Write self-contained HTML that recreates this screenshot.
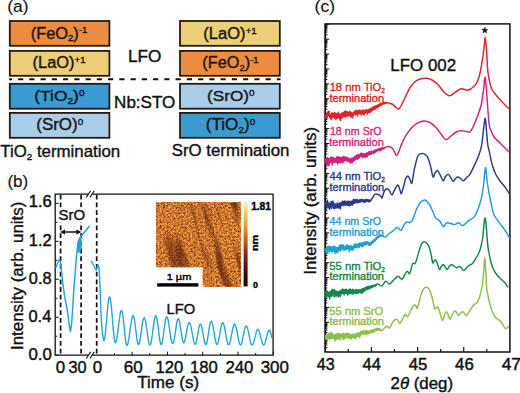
<!DOCTYPE html>
<html><head><meta charset="utf-8"><style>
html,body{margin:0;padding:0;background:#fff;}
svg{display:block;}
text{font-family:"Liberation Sans", sans-serif;}
</style></head><body>
<svg width="520" height="393" viewBox="0 0 520 393">
<rect width="520" height="393" fill="#fff"/>
<rect x="9.8" y="21.0" width="99.60000000000001" height="24.799999999999997" fill="#EC8C40" stroke="#241a12" stroke-width="1.8"/>
<rect x="9.8" y="50.9" width="99.60000000000001" height="24.9" fill="#EDCF78" stroke="#241a12" stroke-width="1.8"/>
<rect x="9.8" y="83.8" width="99.60000000000001" height="24.900000000000006" fill="#3A9BD2" stroke="#241a12" stroke-width="1.8"/>
<rect x="9.8" y="112.9" width="99.60000000000001" height="24.900000000000006" fill="#A9CEEC" stroke="#241a12" stroke-width="1.8"/>
<rect x="180.0" y="21.0" width="99.80000000000001" height="24.799999999999997" fill="#EDCF78" stroke="#241a12" stroke-width="1.8"/>
<rect x="180.0" y="50.9" width="99.80000000000001" height="24.9" fill="#EC8C40" stroke="#241a12" stroke-width="1.8"/>
<rect x="180.0" y="83.8" width="99.80000000000001" height="24.900000000000006" fill="#A9CEEC" stroke="#241a12" stroke-width="1.8"/>
<rect x="180.0" y="112.9" width="99.80000000000001" height="24.900000000000006" fill="#3A9BD2" stroke="#241a12" stroke-width="1.8"/>
<line x1="9.2" y1="79.3" x2="280.5" y2="79.3" stroke="#111" stroke-width="2" stroke-dasharray="5.2 6.05" stroke-dashoffset="2.4"/>
<path d="M88.2,194.1 L55.2,194.1 L55.2,355.2 L88.2,355.2 M92.4,355.2 L273.1,355.2 L273.1,194.1 L92.4,194.1" fill="none" stroke="#111" stroke-width="1.3"/>
<line x1="86.3" y1="197.4" x2="90.6" y2="190.79999999999998" stroke="#111" stroke-width="1.1"/>
<line x1="89.89999999999999" y1="197.4" x2="94.19999999999999" y2="190.79999999999998" stroke="#111" stroke-width="1.1"/>
<line x1="86.3" y1="358.5" x2="90.6" y2="351.9" stroke="#111" stroke-width="1.1"/>
<line x1="89.89999999999999" y1="358.5" x2="94.19999999999999" y2="351.9" stroke="#111" stroke-width="1.1"/>
<line x1="55.2" y1="355.20" x2="58.7" y2="355.20" stroke="#111" stroke-width="1"/>
<line x1="55.2" y1="336.22" x2="57.400000000000006" y2="336.22" stroke="#111" stroke-width="1"/>
<line x1="55.2" y1="317.24" x2="58.7" y2="317.24" stroke="#111" stroke-width="1"/>
<line x1="55.2" y1="298.26" x2="57.400000000000006" y2="298.26" stroke="#111" stroke-width="1"/>
<line x1="55.2" y1="279.28" x2="58.7" y2="279.28" stroke="#111" stroke-width="1"/>
<line x1="55.2" y1="260.30" x2="57.400000000000006" y2="260.30" stroke="#111" stroke-width="1"/>
<line x1="55.2" y1="241.32" x2="58.7" y2="241.32" stroke="#111" stroke-width="1"/>
<line x1="55.2" y1="222.34" x2="57.400000000000006" y2="222.34" stroke="#111" stroke-width="1"/>
<line x1="55.2" y1="203.36" x2="58.7" y2="203.36" stroke="#111" stroke-width="1"/>
<line x1="114.45" y1="355.2" x2="114.45" y2="353.0" stroke="#111" stroke-width="1"/>
<line x1="132.10" y1="355.2" x2="132.10" y2="351.7" stroke="#111" stroke-width="1"/>
<line x1="149.75" y1="355.2" x2="149.75" y2="353.0" stroke="#111" stroke-width="1"/>
<line x1="167.40" y1="355.2" x2="167.40" y2="351.7" stroke="#111" stroke-width="1"/>
<line x1="185.05" y1="355.2" x2="185.05" y2="353.0" stroke="#111" stroke-width="1"/>
<line x1="202.70" y1="355.2" x2="202.70" y2="351.7" stroke="#111" stroke-width="1"/>
<line x1="220.35" y1="355.2" x2="220.35" y2="353.0" stroke="#111" stroke-width="1"/>
<line x1="238.00" y1="355.2" x2="238.00" y2="351.7" stroke="#111" stroke-width="1"/>
<line x1="255.65" y1="355.2" x2="255.65" y2="353.0" stroke="#111" stroke-width="1"/>
<line x1="273.30" y1="355.2" x2="273.30" y2="351.7" stroke="#111" stroke-width="1"/>
<line x1="60.6" y1="194.7" x2="60.6" y2="355.2" stroke="#111" stroke-width="1.7" stroke-dasharray="4.8 2.9"/>
<line x1="81.1" y1="194.7" x2="81.1" y2="355.2" stroke="#111" stroke-width="1.7" stroke-dasharray="4.8 2.9"/>
<line x1="96.7" y1="194.7" x2="96.7" y2="355.2" stroke="#111" stroke-width="1.7" stroke-dasharray="4.8 2.9"/>
<rect x="58.6" y="207.6" width="26.8" height="14.6" fill="#fff"/>
<line x1="63" y1="232.0" x2="78.5" y2="232.0" stroke="#111" stroke-width="1.5"/>
<path d="M60.0,232.0 L65.0,229.4 L65.0,234.6 Z M81.4,232.0 L76.4,229.4 L76.4,234.6 Z" fill="#111"/>
<path d="M55.80,267.70 L57.50,263.00 L59.30,259.70 L60.50,262.00 L61.30,270.00 L63.00,285.00 L64.70,296.70 L66.50,306.00 L67.90,314.50 L69.30,325.00 L70.40,331.50 L71.50,325.00 L72.50,311.00 L73.20,300.00 L74.00,287.00 L75.40,270.00 L76.30,258.00 L77.30,249.00 L78.30,241.00 L79.50,238.50 L80.80,236.50 L82.50,234.50 L85.00,231.50 L87.50,228.50 L89.60,225.90" fill="none" stroke="#22A6DC" stroke-width="1.5" stroke-linejoin="round"/>
<path d="M77.4,251.5 L77.9,243 L79.0,238.6 L80.6,237.6 L81.6,241 L81.2,248 L80.0,251.8 L78.6,252.6 Z" fill="#22A6DC" stroke="#22A6DC" stroke-width="0.8" stroke-linejoin="round"/>
<path d="M91.10,260.80 L93.00,264.00 L95.00,268.50 L96.20,270.40 L97.20,267.00 L98.10,264.60 L99.00,268.00 L99.60,278.00 L100.20,292.00 L100.80,308.00 L101.50,322.00 L102.40,334.00 L103.80,340.80 L104.38,339.73 L104.96,336.61 L105.54,331.75 L106.12,325.63 L106.70,318.85 L107.28,312.07 L107.86,305.95 L108.44,301.09 L109.02,297.97 L109.60,296.90 L110.18,298.02 L110.76,301.27 L111.34,306.34 L111.92,312.72 L112.50,319.80 L113.08,326.88 L113.66,333.26 L114.24,338.33 L114.82,341.58 L115.40,342.70 L116.01,341.91 L116.62,339.62 L117.23,336.04 L117.84,331.54 L118.45,326.55 L119.06,321.56 L119.67,317.06 L120.28,313.48 L120.89,311.19 L121.50,310.40 L122.04,311.26 L122.58,313.76 L123.12,317.65 L123.66,322.56 L124.20,328.00 L124.74,333.44 L125.28,338.35 L125.82,342.24 L126.36,344.74 L126.90,345.60 L127.52,344.87 L128.14,342.75 L128.76,339.46 L129.38,335.30 L130.00,330.70 L130.62,326.10 L131.24,321.94 L131.86,318.65 L132.48,316.53 L133.10,315.80 L133.64,316.50 L134.18,318.55 L134.72,321.74 L135.26,325.75 L135.80,330.20 L136.34,334.65 L136.88,338.66 L137.42,341.85 L137.96,343.90 L138.50,344.60 L139.07,343.94 L139.64,342.03 L140.21,339.06 L140.78,335.31 L141.35,331.15 L141.92,326.99 L142.49,323.24 L143.06,320.27 L143.63,318.36 L144.20,317.70 L144.78,318.37 L145.36,320.31 L145.94,323.33 L146.52,327.13 L147.10,331.35 L147.68,335.57 L148.26,339.37 L148.84,342.39 L149.42,344.33 L150.00,345.00 L150.58,344.29 L151.16,342.21 L151.74,338.98 L152.32,334.91 L152.90,330.40 L153.48,325.89 L154.06,321.82 L154.64,318.59 L155.22,316.51 L155.80,315.80 L156.34,316.50 L156.88,318.55 L157.42,321.74 L157.96,325.75 L158.50,330.20 L159.04,334.65 L159.58,338.66 L160.12,341.85 L160.66,343.90 L161.20,344.60 L161.75,343.92 L162.30,341.94 L162.85,338.85 L163.40,334.96 L163.95,330.65 L164.50,326.34 L165.05,322.45 L165.60,319.36 L166.15,317.38 L166.70,316.70 L167.30,317.36 L167.90,319.27 L168.50,322.24 L169.10,325.99 L169.70,330.15 L170.30,334.31 L170.90,338.06 L171.50,341.03 L172.10,342.94 L172.70,343.60 L173.26,342.99 L173.82,341.22 L174.38,338.47 L174.94,335.00 L175.50,331.15 L176.06,327.30 L176.62,323.83 L177.18,321.08 L177.74,319.31 L178.30,318.70 L178.84,319.29 L179.38,320.99 L179.92,323.65 L180.46,326.99 L181.00,330.70 L181.54,334.41 L182.08,337.75 L182.62,340.41 L183.16,342.11 L183.70,342.70 L184.25,342.21 L184.80,340.77 L185.35,338.54 L185.90,335.72 L186.45,332.60 L187.00,329.48 L187.55,326.66 L188.10,324.43 L188.65,322.99 L189.20,322.50 L189.80,323.03 L190.40,324.57 L191.00,326.97 L191.60,330.00 L192.20,333.35 L192.80,336.70 L193.40,339.73 L194.00,342.13 L194.60,343.67 L195.20,344.20 L195.72,343.71 L196.24,342.27 L196.76,340.04 L197.28,337.22 L197.80,334.10 L198.32,330.98 L198.84,328.16 L199.36,325.93 L199.88,324.49 L200.40,324.00 L200.94,324.50 L201.48,325.96 L202.02,328.23 L202.56,331.08 L203.10,334.25 L203.64,337.42 L204.18,340.27 L204.72,342.54 L205.26,344.00 L205.80,344.50 L206.34,343.93 L206.88,342.28 L207.42,339.72 L207.96,336.48 L208.50,332.90 L209.04,329.32 L209.58,326.08 L210.12,323.52 L210.66,321.87 L211.20,321.30 L211.78,321.87 L212.36,323.52 L212.94,326.08 L213.52,329.32 L214.10,332.90 L214.68,336.48 L215.26,339.72 L215.84,342.28 L216.42,343.93 L217.00,344.50 L217.57,343.97 L218.14,342.42 L218.71,340.01 L219.28,336.97 L219.85,333.60 L220.42,330.23 L220.99,327.19 L221.56,324.78 L222.13,323.23 L222.70,322.70 L223.30,323.24 L223.90,324.81 L224.50,327.25 L225.10,330.34 L225.70,333.75 L226.30,337.16 L226.90,340.25 L227.50,342.69 L228.10,344.26 L228.70,344.80 L229.29,344.29 L229.88,342.81 L230.47,340.51 L231.06,337.61 L231.65,334.40 L232.24,331.19 L232.83,328.29 L233.42,325.99 L234.01,324.51 L234.60,324.00 L235.19,324.51 L235.78,326.01 L236.37,328.33 L236.96,331.26 L237.55,334.50 L238.14,337.74 L238.73,340.67 L239.32,342.99 L239.91,344.49 L240.50,345.00 L241.07,344.54 L241.64,343.19 L242.21,341.08 L242.78,338.44 L243.35,335.50 L243.92,332.56 L244.49,329.92 L245.06,327.81 L245.63,326.46 L246.20,326.00 L246.79,326.46 L247.38,327.81 L247.97,329.92 L248.56,332.56 L249.15,335.50 L249.74,338.44 L250.33,341.08 L250.92,343.19 L251.51,344.54 L252.10,345.00 L252.68,344.62 L253.26,343.51 L253.84,341.78 L254.42,339.61 L255.00,337.20 L255.58,334.79 L256.16,332.62 L256.74,330.89 L257.32,329.78 L257.90,329.40 L258.47,329.78 L259.04,330.89 L259.61,332.62 L260.18,334.79 L260.75,337.20 L261.32,339.61 L261.89,341.78 L262.46,343.51 L263.03,344.62 L263.60,345.00 L264.18,344.63 L264.76,343.57 L265.34,341.91 L265.92,339.82 L266.50,337.50 L267.08,335.18 L267.66,333.09 L268.24,331.43 L268.82,330.37 L269.40,330.00 L269.71,330.20 L270.02,330.76 L270.33,331.65 L270.64,332.76 L270.95,334.00 L271.26,335.24 L271.57,336.35 L271.88,337.24 L272.19,337.80 L272.50,338.00" fill="none" stroke="#22A6DC" stroke-width="1.4" stroke-linejoin="round"/>
<defs><filter id="afmf" x="156.0" y="202.2" width="84.5" height="84.40000000000003" filterUnits="userSpaceOnUse" color-interpolation-filters="sRGB">
<feTurbulence type="fractalNoise" baseFrequency="0.55" numOctaves="2" seed="11" result="t"/>
<feColorMatrix in="t" type="matrix" values="1 0 0 0 0  1 0 0 0 0  1 0 0 0 0  0 0 0 0 1" result="g"/>
<feComponentTransfer in="g" result="g2"><feFuncR type="linear" slope="1.15" intercept="-0.025"/><feFuncG type="linear" slope="1.15" intercept="-0.025"/><feFuncB type="linear" slope="1.15" intercept="-0.025"/></feComponentTransfer>
<feComponentTransfer in="g2"><feFuncR type="table" tableValues="0.275 0.384 0.494 0.608 0.698 0.792 0.847 0.902 0.929 0.961 0.980"/><feFuncG type="table" tableValues="0.078 0.137 0.196 0.255 0.345 0.439 0.518 0.596 0.675 0.753 0.902"/><feFuncB type="table" tableValues="0.020 0.039 0.063 0.086 0.125 0.165 0.208 0.251 0.325 0.400 0.627"/></feComponentTransfer>
</filter>
<linearGradient id="afms" gradientUnits="userSpaceOnUse" x1="0" y1="0" x2="11" y2="0" spreadMethod="repeat" gradientTransform="translate(156.0 202.2) rotate(-18)">
<stop offset="0" stop-color="#5a1a05" stop-opacity="0"/><stop offset="0.35" stop-color="#5a1a05" stop-opacity="0.0"/><stop offset="0.6" stop-color="#5a1a05" stop-opacity="0.38"/><stop offset="0.85" stop-color="#5a1a05" stop-opacity="0.0"/><stop offset="1" stop-color="#5a1a05" stop-opacity="0"/></linearGradient></defs>
<rect x="156.0" y="202.2" width="84.5" height="84.40000000000003" fill="#c87830" filter="url(#afmf)"/>
<defs><clipPath id="afmclip"><rect x="156.0" y="202.2" width="84.5" height="84.40000000000003"/></clipPath>
<filter id="streak" x="126.0" y="172.2" width="144.5" height="144.40000000000003" filterUnits="userSpaceOnUse" color-interpolation-filters="sRGB">
<feTurbulence type="fractalNoise" baseFrequency="0.10 0.018" numOctaves="2" seed="4" result="t"/>
<feColorMatrix in="t" type="matrix" values="0 0 0 0 0.33  0 0 0 0 0.09  0 0 0 0 0.02  -2.6 0 0 0 1.300"/>
</filter></defs>
<g clip-path="url(#afmclip)"><g transform="rotate(-16 198.2 244.4)"><rect x="126.0" y="172.2" width="144.5" height="144.40000000000003" fill="#000" filter="url(#streak)"/></g></g>
<rect x="155.5" y="267.4" width="47.099999999999994" height="19.700000000000045" fill="#fff"/>
<rect x="157.2" y="283.2" width="41.2" height="3.4" fill="#000"/>
<defs><linearGradient id="cb" x1="0" y1="1" x2="0" y2="0"><stop offset="0" stop-color="#1a0000"/><stop offset="0.2" stop-color="#4a0a05"/><stop offset="0.4" stop-color="#8a3010"/><stop offset="0.55" stop-color="#c06020"/><stop offset="0.7" stop-color="#e09838"/><stop offset="0.85" stop-color="#f0c858"/><stop offset="1" stop-color="#f8f0c8"/></linearGradient></defs>
<rect x="243.6" y="202.0" width="4.0" height="84.4" fill="url(#cb)"/>
<rect x="325.2" y="23.9" width="184.7" height="328.1" fill="none" stroke="#111" stroke-width="1.5"/>
<line x1="325.4" y1="23.9" x2="325.4" y2="352.0" stroke="#111" stroke-width="1.5"/>
<line x1="348.29" y1="352.0" x2="348.29" y2="349.0" stroke="#111" stroke-width="1.2"/>
<line x1="371.38" y1="352.0" x2="371.38" y2="347.0" stroke="#111" stroke-width="1.2"/>
<line x1="394.46" y1="352.0" x2="394.46" y2="349.0" stroke="#111" stroke-width="1.2"/>
<line x1="417.55" y1="352.0" x2="417.55" y2="347.0" stroke="#111" stroke-width="1.2"/>
<line x1="440.64" y1="352.0" x2="440.64" y2="349.0" stroke="#111" stroke-width="1.2"/>
<line x1="463.72" y1="352.0" x2="463.72" y2="347.0" stroke="#111" stroke-width="1.2"/>
<line x1="486.81" y1="352.0" x2="486.81" y2="349.0" stroke="#111" stroke-width="1.2"/>
<line x1="325.2" y1="24.30" x2="329.2" y2="24.30" stroke="#111" stroke-width="1"/>
<line x1="325.2" y1="34.71" x2="327.4" y2="34.71" stroke="#111" stroke-width="1"/>
<line x1="325.2" y1="32.09" x2="327.4" y2="32.09" stroke="#111" stroke-width="1"/>
<line x1="325.2" y1="30.23" x2="327.4" y2="30.23" stroke="#111" stroke-width="1"/>
<line x1="325.2" y1="28.79" x2="327.4" y2="28.79" stroke="#111" stroke-width="1"/>
<line x1="325.2" y1="27.61" x2="327.4" y2="27.61" stroke="#111" stroke-width="1"/>
<line x1="325.2" y1="26.61" x2="327.4" y2="26.61" stroke="#111" stroke-width="1"/>
<line x1="325.2" y1="25.74" x2="327.4" y2="25.74" stroke="#111" stroke-width="1"/>
<line x1="325.2" y1="24.98" x2="327.4" y2="24.98" stroke="#111" stroke-width="1"/>
<line x1="325.2" y1="39.20" x2="329.2" y2="39.20" stroke="#111" stroke-width="1"/>
<line x1="325.2" y1="49.61" x2="327.4" y2="49.61" stroke="#111" stroke-width="1"/>
<line x1="325.2" y1="46.99" x2="327.4" y2="46.99" stroke="#111" stroke-width="1"/>
<line x1="325.2" y1="45.13" x2="327.4" y2="45.13" stroke="#111" stroke-width="1"/>
<line x1="325.2" y1="43.69" x2="327.4" y2="43.69" stroke="#111" stroke-width="1"/>
<line x1="325.2" y1="42.51" x2="327.4" y2="42.51" stroke="#111" stroke-width="1"/>
<line x1="325.2" y1="41.51" x2="327.4" y2="41.51" stroke="#111" stroke-width="1"/>
<line x1="325.2" y1="40.64" x2="327.4" y2="40.64" stroke="#111" stroke-width="1"/>
<line x1="325.2" y1="39.88" x2="327.4" y2="39.88" stroke="#111" stroke-width="1"/>
<line x1="325.2" y1="54.10" x2="329.2" y2="54.10" stroke="#111" stroke-width="1"/>
<line x1="325.2" y1="64.51" x2="327.4" y2="64.51" stroke="#111" stroke-width="1"/>
<line x1="325.2" y1="61.89" x2="327.4" y2="61.89" stroke="#111" stroke-width="1"/>
<line x1="325.2" y1="60.03" x2="327.4" y2="60.03" stroke="#111" stroke-width="1"/>
<line x1="325.2" y1="58.59" x2="327.4" y2="58.59" stroke="#111" stroke-width="1"/>
<line x1="325.2" y1="57.41" x2="327.4" y2="57.41" stroke="#111" stroke-width="1"/>
<line x1="325.2" y1="56.41" x2="327.4" y2="56.41" stroke="#111" stroke-width="1"/>
<line x1="325.2" y1="55.54" x2="327.4" y2="55.54" stroke="#111" stroke-width="1"/>
<line x1="325.2" y1="54.78" x2="327.4" y2="54.78" stroke="#111" stroke-width="1"/>
<line x1="325.2" y1="69.00" x2="329.2" y2="69.00" stroke="#111" stroke-width="1"/>
<line x1="325.2" y1="79.41" x2="327.4" y2="79.41" stroke="#111" stroke-width="1"/>
<line x1="325.2" y1="76.79" x2="327.4" y2="76.79" stroke="#111" stroke-width="1"/>
<line x1="325.2" y1="74.93" x2="327.4" y2="74.93" stroke="#111" stroke-width="1"/>
<line x1="325.2" y1="73.49" x2="327.4" y2="73.49" stroke="#111" stroke-width="1"/>
<line x1="325.2" y1="72.31" x2="327.4" y2="72.31" stroke="#111" stroke-width="1"/>
<line x1="325.2" y1="71.31" x2="327.4" y2="71.31" stroke="#111" stroke-width="1"/>
<line x1="325.2" y1="70.44" x2="327.4" y2="70.44" stroke="#111" stroke-width="1"/>
<line x1="325.2" y1="69.68" x2="327.4" y2="69.68" stroke="#111" stroke-width="1"/>
<line x1="325.2" y1="83.90" x2="329.2" y2="83.90" stroke="#111" stroke-width="1"/>
<line x1="325.2" y1="94.31" x2="327.4" y2="94.31" stroke="#111" stroke-width="1"/>
<line x1="325.2" y1="91.69" x2="327.4" y2="91.69" stroke="#111" stroke-width="1"/>
<line x1="325.2" y1="89.83" x2="327.4" y2="89.83" stroke="#111" stroke-width="1"/>
<line x1="325.2" y1="88.39" x2="327.4" y2="88.39" stroke="#111" stroke-width="1"/>
<line x1="325.2" y1="87.21" x2="327.4" y2="87.21" stroke="#111" stroke-width="1"/>
<line x1="325.2" y1="86.21" x2="327.4" y2="86.21" stroke="#111" stroke-width="1"/>
<line x1="325.2" y1="85.34" x2="327.4" y2="85.34" stroke="#111" stroke-width="1"/>
<line x1="325.2" y1="84.58" x2="327.4" y2="84.58" stroke="#111" stroke-width="1"/>
<line x1="325.2" y1="98.80" x2="329.2" y2="98.80" stroke="#111" stroke-width="1"/>
<line x1="325.2" y1="109.21" x2="327.4" y2="109.21" stroke="#111" stroke-width="1"/>
<line x1="325.2" y1="106.59" x2="327.4" y2="106.59" stroke="#111" stroke-width="1"/>
<line x1="325.2" y1="104.73" x2="327.4" y2="104.73" stroke="#111" stroke-width="1"/>
<line x1="325.2" y1="103.29" x2="327.4" y2="103.29" stroke="#111" stroke-width="1"/>
<line x1="325.2" y1="102.11" x2="327.4" y2="102.11" stroke="#111" stroke-width="1"/>
<line x1="325.2" y1="101.11" x2="327.4" y2="101.11" stroke="#111" stroke-width="1"/>
<line x1="325.2" y1="100.24" x2="327.4" y2="100.24" stroke="#111" stroke-width="1"/>
<line x1="325.2" y1="99.48" x2="327.4" y2="99.48" stroke="#111" stroke-width="1"/>
<line x1="325.2" y1="113.70" x2="329.2" y2="113.70" stroke="#111" stroke-width="1"/>
<line x1="325.2" y1="124.11" x2="327.4" y2="124.11" stroke="#111" stroke-width="1"/>
<line x1="325.2" y1="121.49" x2="327.4" y2="121.49" stroke="#111" stroke-width="1"/>
<line x1="325.2" y1="119.63" x2="327.4" y2="119.63" stroke="#111" stroke-width="1"/>
<line x1="325.2" y1="118.19" x2="327.4" y2="118.19" stroke="#111" stroke-width="1"/>
<line x1="325.2" y1="117.01" x2="327.4" y2="117.01" stroke="#111" stroke-width="1"/>
<line x1="325.2" y1="116.01" x2="327.4" y2="116.01" stroke="#111" stroke-width="1"/>
<line x1="325.2" y1="115.14" x2="327.4" y2="115.14" stroke="#111" stroke-width="1"/>
<line x1="325.2" y1="114.38" x2="327.4" y2="114.38" stroke="#111" stroke-width="1"/>
<line x1="325.2" y1="128.60" x2="329.2" y2="128.60" stroke="#111" stroke-width="1"/>
<line x1="325.2" y1="139.01" x2="327.4" y2="139.01" stroke="#111" stroke-width="1"/>
<line x1="325.2" y1="136.39" x2="327.4" y2="136.39" stroke="#111" stroke-width="1"/>
<line x1="325.2" y1="134.53" x2="327.4" y2="134.53" stroke="#111" stroke-width="1"/>
<line x1="325.2" y1="133.09" x2="327.4" y2="133.09" stroke="#111" stroke-width="1"/>
<line x1="325.2" y1="131.91" x2="327.4" y2="131.91" stroke="#111" stroke-width="1"/>
<line x1="325.2" y1="130.91" x2="327.4" y2="130.91" stroke="#111" stroke-width="1"/>
<line x1="325.2" y1="130.04" x2="327.4" y2="130.04" stroke="#111" stroke-width="1"/>
<line x1="325.2" y1="129.28" x2="327.4" y2="129.28" stroke="#111" stroke-width="1"/>
<line x1="325.2" y1="143.50" x2="329.2" y2="143.50" stroke="#111" stroke-width="1"/>
<line x1="325.2" y1="153.91" x2="327.4" y2="153.91" stroke="#111" stroke-width="1"/>
<line x1="325.2" y1="151.29" x2="327.4" y2="151.29" stroke="#111" stroke-width="1"/>
<line x1="325.2" y1="149.43" x2="327.4" y2="149.43" stroke="#111" stroke-width="1"/>
<line x1="325.2" y1="147.99" x2="327.4" y2="147.99" stroke="#111" stroke-width="1"/>
<line x1="325.2" y1="146.81" x2="327.4" y2="146.81" stroke="#111" stroke-width="1"/>
<line x1="325.2" y1="145.81" x2="327.4" y2="145.81" stroke="#111" stroke-width="1"/>
<line x1="325.2" y1="144.94" x2="327.4" y2="144.94" stroke="#111" stroke-width="1"/>
<line x1="325.2" y1="144.18" x2="327.4" y2="144.18" stroke="#111" stroke-width="1"/>
<line x1="325.2" y1="158.40" x2="329.2" y2="158.40" stroke="#111" stroke-width="1"/>
<line x1="325.2" y1="168.81" x2="327.4" y2="168.81" stroke="#111" stroke-width="1"/>
<line x1="325.2" y1="166.19" x2="327.4" y2="166.19" stroke="#111" stroke-width="1"/>
<line x1="325.2" y1="164.33" x2="327.4" y2="164.33" stroke="#111" stroke-width="1"/>
<line x1="325.2" y1="162.89" x2="327.4" y2="162.89" stroke="#111" stroke-width="1"/>
<line x1="325.2" y1="161.71" x2="327.4" y2="161.71" stroke="#111" stroke-width="1"/>
<line x1="325.2" y1="160.71" x2="327.4" y2="160.71" stroke="#111" stroke-width="1"/>
<line x1="325.2" y1="159.84" x2="327.4" y2="159.84" stroke="#111" stroke-width="1"/>
<line x1="325.2" y1="159.08" x2="327.4" y2="159.08" stroke="#111" stroke-width="1"/>
<line x1="325.2" y1="173.30" x2="329.2" y2="173.30" stroke="#111" stroke-width="1"/>
<line x1="325.2" y1="183.71" x2="327.4" y2="183.71" stroke="#111" stroke-width="1"/>
<line x1="325.2" y1="181.09" x2="327.4" y2="181.09" stroke="#111" stroke-width="1"/>
<line x1="325.2" y1="179.23" x2="327.4" y2="179.23" stroke="#111" stroke-width="1"/>
<line x1="325.2" y1="177.79" x2="327.4" y2="177.79" stroke="#111" stroke-width="1"/>
<line x1="325.2" y1="176.61" x2="327.4" y2="176.61" stroke="#111" stroke-width="1"/>
<line x1="325.2" y1="175.61" x2="327.4" y2="175.61" stroke="#111" stroke-width="1"/>
<line x1="325.2" y1="174.74" x2="327.4" y2="174.74" stroke="#111" stroke-width="1"/>
<line x1="325.2" y1="173.98" x2="327.4" y2="173.98" stroke="#111" stroke-width="1"/>
<line x1="325.2" y1="188.20" x2="329.2" y2="188.20" stroke="#111" stroke-width="1"/>
<line x1="325.2" y1="198.61" x2="327.4" y2="198.61" stroke="#111" stroke-width="1"/>
<line x1="325.2" y1="195.99" x2="327.4" y2="195.99" stroke="#111" stroke-width="1"/>
<line x1="325.2" y1="194.13" x2="327.4" y2="194.13" stroke="#111" stroke-width="1"/>
<line x1="325.2" y1="192.69" x2="327.4" y2="192.69" stroke="#111" stroke-width="1"/>
<line x1="325.2" y1="191.51" x2="327.4" y2="191.51" stroke="#111" stroke-width="1"/>
<line x1="325.2" y1="190.51" x2="327.4" y2="190.51" stroke="#111" stroke-width="1"/>
<line x1="325.2" y1="189.64" x2="327.4" y2="189.64" stroke="#111" stroke-width="1"/>
<line x1="325.2" y1="188.88" x2="327.4" y2="188.88" stroke="#111" stroke-width="1"/>
<line x1="325.2" y1="203.10" x2="329.2" y2="203.10" stroke="#111" stroke-width="1"/>
<line x1="325.2" y1="213.51" x2="327.4" y2="213.51" stroke="#111" stroke-width="1"/>
<line x1="325.2" y1="210.89" x2="327.4" y2="210.89" stroke="#111" stroke-width="1"/>
<line x1="325.2" y1="209.03" x2="327.4" y2="209.03" stroke="#111" stroke-width="1"/>
<line x1="325.2" y1="207.59" x2="327.4" y2="207.59" stroke="#111" stroke-width="1"/>
<line x1="325.2" y1="206.41" x2="327.4" y2="206.41" stroke="#111" stroke-width="1"/>
<line x1="325.2" y1="205.41" x2="327.4" y2="205.41" stroke="#111" stroke-width="1"/>
<line x1="325.2" y1="204.54" x2="327.4" y2="204.54" stroke="#111" stroke-width="1"/>
<line x1="325.2" y1="203.78" x2="327.4" y2="203.78" stroke="#111" stroke-width="1"/>
<line x1="325.2" y1="218.00" x2="329.2" y2="218.00" stroke="#111" stroke-width="1"/>
<line x1="325.2" y1="228.41" x2="327.4" y2="228.41" stroke="#111" stroke-width="1"/>
<line x1="325.2" y1="225.79" x2="327.4" y2="225.79" stroke="#111" stroke-width="1"/>
<line x1="325.2" y1="223.93" x2="327.4" y2="223.93" stroke="#111" stroke-width="1"/>
<line x1="325.2" y1="222.49" x2="327.4" y2="222.49" stroke="#111" stroke-width="1"/>
<line x1="325.2" y1="221.31" x2="327.4" y2="221.31" stroke="#111" stroke-width="1"/>
<line x1="325.2" y1="220.31" x2="327.4" y2="220.31" stroke="#111" stroke-width="1"/>
<line x1="325.2" y1="219.44" x2="327.4" y2="219.44" stroke="#111" stroke-width="1"/>
<line x1="325.2" y1="218.68" x2="327.4" y2="218.68" stroke="#111" stroke-width="1"/>
<line x1="325.2" y1="232.90" x2="329.2" y2="232.90" stroke="#111" stroke-width="1"/>
<line x1="325.2" y1="243.31" x2="327.4" y2="243.31" stroke="#111" stroke-width="1"/>
<line x1="325.2" y1="240.69" x2="327.4" y2="240.69" stroke="#111" stroke-width="1"/>
<line x1="325.2" y1="238.83" x2="327.4" y2="238.83" stroke="#111" stroke-width="1"/>
<line x1="325.2" y1="237.39" x2="327.4" y2="237.39" stroke="#111" stroke-width="1"/>
<line x1="325.2" y1="236.21" x2="327.4" y2="236.21" stroke="#111" stroke-width="1"/>
<line x1="325.2" y1="235.21" x2="327.4" y2="235.21" stroke="#111" stroke-width="1"/>
<line x1="325.2" y1="234.34" x2="327.4" y2="234.34" stroke="#111" stroke-width="1"/>
<line x1="325.2" y1="233.58" x2="327.4" y2="233.58" stroke="#111" stroke-width="1"/>
<line x1="325.2" y1="247.80" x2="329.2" y2="247.80" stroke="#111" stroke-width="1"/>
<line x1="325.2" y1="258.21" x2="327.4" y2="258.21" stroke="#111" stroke-width="1"/>
<line x1="325.2" y1="255.59" x2="327.4" y2="255.59" stroke="#111" stroke-width="1"/>
<line x1="325.2" y1="253.73" x2="327.4" y2="253.73" stroke="#111" stroke-width="1"/>
<line x1="325.2" y1="252.29" x2="327.4" y2="252.29" stroke="#111" stroke-width="1"/>
<line x1="325.2" y1="251.11" x2="327.4" y2="251.11" stroke="#111" stroke-width="1"/>
<line x1="325.2" y1="250.11" x2="327.4" y2="250.11" stroke="#111" stroke-width="1"/>
<line x1="325.2" y1="249.24" x2="327.4" y2="249.24" stroke="#111" stroke-width="1"/>
<line x1="325.2" y1="248.48" x2="327.4" y2="248.48" stroke="#111" stroke-width="1"/>
<line x1="325.2" y1="262.70" x2="329.2" y2="262.70" stroke="#111" stroke-width="1"/>
<line x1="325.2" y1="273.11" x2="327.4" y2="273.11" stroke="#111" stroke-width="1"/>
<line x1="325.2" y1="270.49" x2="327.4" y2="270.49" stroke="#111" stroke-width="1"/>
<line x1="325.2" y1="268.63" x2="327.4" y2="268.63" stroke="#111" stroke-width="1"/>
<line x1="325.2" y1="267.19" x2="327.4" y2="267.19" stroke="#111" stroke-width="1"/>
<line x1="325.2" y1="266.01" x2="327.4" y2="266.01" stroke="#111" stroke-width="1"/>
<line x1="325.2" y1="265.01" x2="327.4" y2="265.01" stroke="#111" stroke-width="1"/>
<line x1="325.2" y1="264.14" x2="327.4" y2="264.14" stroke="#111" stroke-width="1"/>
<line x1="325.2" y1="263.38" x2="327.4" y2="263.38" stroke="#111" stroke-width="1"/>
<line x1="325.2" y1="277.60" x2="329.2" y2="277.60" stroke="#111" stroke-width="1"/>
<line x1="325.2" y1="288.01" x2="327.4" y2="288.01" stroke="#111" stroke-width="1"/>
<line x1="325.2" y1="285.39" x2="327.4" y2="285.39" stroke="#111" stroke-width="1"/>
<line x1="325.2" y1="283.53" x2="327.4" y2="283.53" stroke="#111" stroke-width="1"/>
<line x1="325.2" y1="282.09" x2="327.4" y2="282.09" stroke="#111" stroke-width="1"/>
<line x1="325.2" y1="280.91" x2="327.4" y2="280.91" stroke="#111" stroke-width="1"/>
<line x1="325.2" y1="279.91" x2="327.4" y2="279.91" stroke="#111" stroke-width="1"/>
<line x1="325.2" y1="279.04" x2="327.4" y2="279.04" stroke="#111" stroke-width="1"/>
<line x1="325.2" y1="278.28" x2="327.4" y2="278.28" stroke="#111" stroke-width="1"/>
<line x1="325.2" y1="292.50" x2="329.2" y2="292.50" stroke="#111" stroke-width="1"/>
<line x1="325.2" y1="302.91" x2="327.4" y2="302.91" stroke="#111" stroke-width="1"/>
<line x1="325.2" y1="300.29" x2="327.4" y2="300.29" stroke="#111" stroke-width="1"/>
<line x1="325.2" y1="298.43" x2="327.4" y2="298.43" stroke="#111" stroke-width="1"/>
<line x1="325.2" y1="296.99" x2="327.4" y2="296.99" stroke="#111" stroke-width="1"/>
<line x1="325.2" y1="295.81" x2="327.4" y2="295.81" stroke="#111" stroke-width="1"/>
<line x1="325.2" y1="294.81" x2="327.4" y2="294.81" stroke="#111" stroke-width="1"/>
<line x1="325.2" y1="293.94" x2="327.4" y2="293.94" stroke="#111" stroke-width="1"/>
<line x1="325.2" y1="293.18" x2="327.4" y2="293.18" stroke="#111" stroke-width="1"/>
<line x1="325.2" y1="307.40" x2="329.2" y2="307.40" stroke="#111" stroke-width="1"/>
<line x1="325.2" y1="317.81" x2="327.4" y2="317.81" stroke="#111" stroke-width="1"/>
<line x1="325.2" y1="315.19" x2="327.4" y2="315.19" stroke="#111" stroke-width="1"/>
<line x1="325.2" y1="313.33" x2="327.4" y2="313.33" stroke="#111" stroke-width="1"/>
<line x1="325.2" y1="311.89" x2="327.4" y2="311.89" stroke="#111" stroke-width="1"/>
<line x1="325.2" y1="310.71" x2="327.4" y2="310.71" stroke="#111" stroke-width="1"/>
<line x1="325.2" y1="309.71" x2="327.4" y2="309.71" stroke="#111" stroke-width="1"/>
<line x1="325.2" y1="308.84" x2="327.4" y2="308.84" stroke="#111" stroke-width="1"/>
<line x1="325.2" y1="308.08" x2="327.4" y2="308.08" stroke="#111" stroke-width="1"/>
<line x1="325.2" y1="322.30" x2="329.2" y2="322.30" stroke="#111" stroke-width="1"/>
<line x1="325.2" y1="332.71" x2="327.4" y2="332.71" stroke="#111" stroke-width="1"/>
<line x1="325.2" y1="330.09" x2="327.4" y2="330.09" stroke="#111" stroke-width="1"/>
<line x1="325.2" y1="328.23" x2="327.4" y2="328.23" stroke="#111" stroke-width="1"/>
<line x1="325.2" y1="326.79" x2="327.4" y2="326.79" stroke="#111" stroke-width="1"/>
<line x1="325.2" y1="325.61" x2="327.4" y2="325.61" stroke="#111" stroke-width="1"/>
<line x1="325.2" y1="324.61" x2="327.4" y2="324.61" stroke="#111" stroke-width="1"/>
<line x1="325.2" y1="323.74" x2="327.4" y2="323.74" stroke="#111" stroke-width="1"/>
<line x1="325.2" y1="322.98" x2="327.4" y2="322.98" stroke="#111" stroke-width="1"/>
<line x1="325.2" y1="337.20" x2="329.2" y2="337.20" stroke="#111" stroke-width="1"/>
<line x1="325.2" y1="347.61" x2="327.4" y2="347.61" stroke="#111" stroke-width="1"/>
<line x1="325.2" y1="344.99" x2="327.4" y2="344.99" stroke="#111" stroke-width="1"/>
<line x1="325.2" y1="343.13" x2="327.4" y2="343.13" stroke="#111" stroke-width="1"/>
<line x1="325.2" y1="341.69" x2="327.4" y2="341.69" stroke="#111" stroke-width="1"/>
<line x1="325.2" y1="340.51" x2="327.4" y2="340.51" stroke="#111" stroke-width="1"/>
<line x1="325.2" y1="339.51" x2="327.4" y2="339.51" stroke="#111" stroke-width="1"/>
<line x1="325.2" y1="338.64" x2="327.4" y2="338.64" stroke="#111" stroke-width="1"/>
<line x1="325.2" y1="337.88" x2="327.4" y2="337.88" stroke="#111" stroke-width="1"/>
<path d="M325.60,114.13 L326.05,118.34 L326.50,114.23 L326.95,118.16 L327.40,112.38 L327.85,115.99 L328.30,111.47 L328.75,115.89 L329.20,111.55 L329.65,117.26 L330.10,114.38 L330.55,118.86 L331.00,114.13 L331.45,119.25 L331.90,112.58 L332.35,117.61 L332.80,113.89 L333.25,116.69 L333.70,113.14 L334.15,117.74 L334.60,113.09 L335.05,118.81 L335.50,112.92 L335.95,119.15 L336.40,113.90 L336.85,118.42 L337.30,113.79 L337.75,117.86 L338.20,112.30 L338.65,117.84 L339.10,114.08 L339.55,118.81 L340.00,114.14 L340.45,120.54 L340.90,114.02 L341.35,118.21 L341.80,112.87 L342.25,117.84 L342.70,113.38 L343.15,116.83 L343.60,112.60 L344.05,116.59 L344.50,111.48 L344.95,116.69 L345.40,110.95 L345.85,116.70 L346.30,111.69 L346.75,115.76 L347.20,111.35 L347.65,116.19 L348.10,112.45 L348.55,115.76 L349.00,112.35 L349.45,115.17 L349.90,111.33 L350.35,116.67 L350.80,112.21 L351.25,115.91 L351.70,112.86 L352.15,118.16 L352.60,113.27 L353.05,116.47 L353.50,112.19 L353.95,114.64 L354.40,111.78 L354.85,113.94 L355.30,110.56 L355.75,114.61 L356.20,110.81 L356.65,113.60 L357.10,110.72 L357.55,115.89 L358.00,111.02 L358.45,113.46 L358.90,110.62 L359.35,113.88 L359.80,109.90 L360.25,113.34 L360.70,110.98 L361.15,115.11 L361.60,110.86 L362.05,113.63 L362.50,109.95 L362.95,113.99 L363.40,110.27 L363.85,114.68 L364.30,110.47 L364.75,114.44 L365.20,110.41 L365.65,112.70 L366.10,109.71 L366.55,112.53 L367.00,109.84 L367.45,114.10 L367.90,110.59 L368.35,112.34 L368.80,109.49 L369.25,112.67 L369.70,109.28 L370.15,112.29 L370.60,108.30 L371.05,111.63 L371.50,108.54 L371.95,110.89 L372.40,107.32 L372.85,110.03 L373.30,107.05 L373.75,109.37 L374.20,106.91 L374.65,109.54 L375.10,106.05 L375.55,108.81 L376.00,105.98 L376.45,107.36 L376.90,105.56 L377.35,108.06 L377.80,104.91 L378.25,106.88 L378.70,104.82 L379.15,106.29 L379.60,104.07 L380.05,105.92 L380.50,103.51 L380.95,105.52 L381.40,103.07 L381.85,104.71 L382.30,103.19 L382.75,104.13 L383.20,102.40 L383.65,103.73 L384.10,102.50 L384.55,103.67 L385.00,102.40 L385.45,103.45 L385.90,102.42 L386.35,103.27 L386.80,102.42 L386.80,102.42 C386.88,102.47 386.43,102.44 387.30,102.70 C388.17,102.96 390.55,103.20 392.00,104.00 C393.45,104.80 394.87,106.67 396.00,107.50 C397.13,108.33 397.88,109.42 398.80,109.00 C399.72,108.58 400.53,106.75 401.50,105.00 C402.47,103.25 403.12,101.50 404.60,98.50 C406.08,95.50 408.50,89.92 410.40,87.00 C412.30,84.08 414.23,82.37 416.00,81.00 C417.77,79.63 419.22,79.25 421.00,78.80 C422.78,78.35 424.87,78.10 426.70,78.30 C428.53,78.50 430.12,78.97 432.00,80.00 C433.88,81.03 436.00,82.50 438.00,84.50 C440.00,86.50 442.07,90.12 444.00,92.00 C445.93,93.88 447.77,95.72 449.60,95.80 C451.43,95.88 453.10,93.68 455.00,92.50 C456.90,91.32 458.93,89.08 461.00,88.70 C463.07,88.32 465.57,90.32 467.40,90.20 C469.23,90.08 470.52,89.10 472.00,88.00 C473.48,86.90 475.13,85.43 476.30,83.60 C477.47,81.77 478.15,79.97 479.00,77.00 C479.85,74.03 480.60,70.30 481.40,65.80 C482.20,61.30 483.17,54.80 483.80,50.00 C484.43,45.20 484.75,37.00 485.20,37.00 C485.65,37.00 486.07,44.35 486.50,50.00 C486.93,55.65 487.30,65.73 487.80,70.90 C488.30,76.07 488.87,78.03 489.50,81.00 C490.13,83.97 490.52,86.37 491.60,88.70 C492.68,91.03 494.30,92.88 496.00,95.00 C497.70,97.12 500.13,99.57 501.80,101.40 C503.47,103.23 504.73,104.73 506.00,106.00 C507.27,107.27 508.83,108.50 509.40,109.00" fill="none" stroke="#E1232B" stroke-width="1.45" stroke-linejoin="round"/>
<path d="M325.60,158.49 L326.05,163.61 L326.50,158.12 L326.95,163.31 L327.40,157.43 L327.85,164.92 L328.30,159.53 L328.75,165.87 L329.20,160.03 L329.65,163.23 L330.10,157.88 L330.55,162.19 L331.00,157.00 L331.45,162.51 L331.90,157.94 L332.35,164.99 L332.80,157.12 L333.25,162.30 L333.70,158.19 L334.15,162.42 L334.60,158.19 L335.05,161.70 L335.50,158.63 L335.95,162.61 L336.40,157.51 L336.85,162.30 L337.30,156.41 L337.75,164.12 L338.20,157.49 L338.65,161.98 L339.10,156.99 L339.55,162.65 L340.00,157.93 L340.45,163.05 L340.90,157.30 L341.35,160.74 L341.80,157.71 L342.25,162.90 L342.70,157.22 L343.15,162.47 L343.60,156.20 L344.05,160.79 L344.50,156.84 L344.95,160.80 L345.40,157.83 L345.85,160.69 L346.30,157.04 L346.75,160.47 L347.20,157.81 L347.65,161.30 L348.10,158.29 L348.55,160.96 L349.00,158.12 L349.45,161.67 L349.90,159.12 L350.35,162.92 L350.80,158.68 L351.25,162.47 L351.70,158.25 L352.15,162.96 L352.60,158.29 L353.05,161.48 L353.50,157.62 L353.95,160.81 L354.40,156.60 L354.85,160.23 L355.30,156.21 L355.75,159.20 L356.20,155.82 L356.65,158.72 L357.10,154.67 L357.55,159.32 L358.00,154.98 L358.45,158.27 L358.90,154.62 L359.35,157.86 L359.80,154.23 L360.25,156.61 L360.70,153.43 L361.15,155.72 L361.60,153.19 L362.05,156.42 L362.50,153.51 L362.95,157.81 L363.40,153.83 L363.85,156.78 L364.30,154.10 L364.75,157.11 L365.20,153.68 L365.65,157.30 L366.10,153.17 L366.55,156.49 L367.00,152.93 L367.45,156.56 L367.90,152.85 L368.35,154.80 L368.80,152.05 L369.25,154.67 L369.70,151.39 L370.15,154.31 L370.60,151.73 L371.05,154.35 L371.50,151.31 L371.95,153.37 L372.40,151.44 L372.85,152.80 L373.30,150.93 L373.75,153.73 L374.20,150.58 L374.65,152.65 L375.10,150.22 L375.55,151.97 L376.00,149.83 L376.45,151.50 L376.90,149.79 L377.35,150.78 L377.80,148.94 L378.25,150.61 L378.70,148.82 L379.15,150.10 L379.60,148.77 L380.05,150.64 L380.50,148.28 L380.95,150.13 L381.40,148.20 L381.85,149.53 L382.30,147.67 L382.75,148.72 L383.20,147.72 L383.65,148.62 L384.10,147.53 L384.55,148.30 L385.00,147.47 L385.00,147.47 C385.70,147.31 387.87,146.25 389.20,146.50 C390.53,146.75 391.80,147.48 393.00,149.00 C394.20,150.52 395.40,155.27 396.40,155.60 C397.40,155.93 398.15,152.87 399.00,151.00 C399.85,149.13 400.50,146.73 401.50,144.40 C402.50,142.07 403.65,139.37 405.00,137.00 C406.35,134.63 408.10,132.12 409.60,130.20 C411.10,128.28 412.30,126.87 414.00,125.50 C415.70,124.13 418.10,122.75 419.80,122.00 C421.50,121.25 422.50,120.92 424.20,121.00 C425.90,121.08 428.03,121.42 430.00,122.50 C431.97,123.58 434.17,125.58 436.00,127.50 C437.83,129.42 439.37,131.98 441.00,134.00 C442.63,136.02 444.13,139.27 445.80,139.60 C447.47,139.93 449.30,137.27 451.00,136.00 C452.70,134.73 454.33,132.88 456.00,132.00 C457.67,131.12 459.33,130.78 461.00,130.70 C462.67,130.62 464.50,131.28 466.00,131.50 C467.50,131.72 468.83,132.75 470.00,132.00 C471.17,131.25 471.95,129.12 473.00,127.00 C474.05,124.88 475.30,121.80 476.30,119.30 C477.30,116.80 478.15,114.55 479.00,112.00 C479.85,109.45 480.65,107.67 481.40,104.00 C482.15,100.33 482.87,94.45 483.50,90.00 C484.13,85.55 484.65,76.47 485.20,77.30 C485.75,78.13 486.17,87.38 486.80,95.00 C487.43,102.62 488.30,117.08 489.00,123.00 C489.70,128.92 490.17,128.17 491.00,130.50 C491.83,132.83 492.50,134.92 494.00,137.00 C495.50,139.08 498.17,141.17 500.00,143.00 C501.83,144.83 503.43,146.45 505.00,148.00 C506.57,149.55 508.67,151.58 509.40,152.30" fill="none" stroke="#D21F80" stroke-width="1.45" stroke-linejoin="round"/>
<path d="M325.60,201.98 L326.05,206.64 L326.50,201.68 L326.95,207.69 L327.40,200.27 L327.85,205.99 L328.30,202.47 L328.75,208.01 L329.20,203.32 L329.65,209.21 L330.10,203.66 L330.55,207.08 L331.00,201.71 L331.45,208.31 L331.90,201.84 L332.35,205.87 L332.80,201.10 L333.25,208.31 L333.70,202.30 L334.15,208.31 L334.60,204.39 L335.05,208.40 L335.50,204.01 L335.95,207.33 L336.40,204.54 L336.85,207.80 L337.30,202.87 L337.75,207.74 L338.20,204.11 L338.65,207.75 L339.10,203.31 L339.55,207.91 L340.00,202.67 L340.45,208.87 L340.90,203.12 L341.35,205.59 L341.80,202.23 L342.25,204.97 L342.70,201.10 L343.15,205.73 L343.60,201.71 L344.05,205.10 L344.50,201.06 L344.95,204.95 L345.40,201.42 L345.85,205.37 L346.30,201.79 L346.75,204.88 L347.20,201.52 L347.65,205.35 L348.10,201.10 L348.55,205.26 L349.00,202.16 L349.45,205.99 L349.90,201.27 L350.35,205.08 L350.80,201.53 L351.25,204.81 L351.70,201.26 L352.15,205.28 L352.60,201.06 L353.05,204.18 L353.50,199.59 L353.95,202.98 L354.40,199.85 L354.85,203.25 L355.30,199.74 L355.75,202.60 L356.20,199.66 L356.65,202.10 L357.10,199.45 L357.55,202.99 L358.00,200.30 L358.45,202.33 L358.90,200.13 L359.35,202.24 L359.80,199.74 L360.25,202.01 L360.70,199.53 L361.15,201.64 L361.60,199.40 L362.05,201.60 L362.50,199.56 L362.95,201.64 L363.40,200.11 L363.85,202.11 L364.30,199.76 L364.75,202.43 L365.20,199.96 L365.65,201.51 L366.10,199.61 L366.55,201.41 L367.00,199.42 L367.45,201.07 L367.90,199.59 L368.35,201.78 L368.80,199.94 L369.25,201.68 L369.70,200.17 L370.15,201.57 L370.60,200.30 L371.05,200.51 L371.50,199.01 L371.95,198.93 L371.95,198.93 C372.12,198.61 372.49,197.79 373.00,197.00 C373.51,196.21 374.15,194.62 375.00,194.20 C375.85,193.78 377.07,194.12 378.10,194.50 C379.13,194.88 380.55,195.92 381.20,196.50 C381.85,197.08 381.57,198.65 382.00,198.00 C382.43,197.35 383.30,193.93 383.80,192.60 C384.30,191.27 384.42,190.63 385.00,190.00 C385.58,189.37 386.53,188.63 387.30,188.80 C388.07,188.97 388.83,189.98 389.60,191.00 C390.37,192.02 391.08,195.07 391.90,194.90 C392.72,194.73 393.50,191.65 394.50,190.00 C395.50,188.35 397.02,185.08 397.90,185.00 C398.78,184.92 399.22,188.07 399.80,189.50 C400.38,190.93 400.70,194.35 401.40,193.60 C402.10,192.85 403.32,187.43 404.00,185.00 C404.68,182.57 404.87,180.50 405.50,179.00 C406.13,177.50 407.08,176.00 407.80,176.00 C408.52,176.00 409.13,177.78 409.80,179.00 C410.47,180.22 411.18,184.13 411.80,183.30 C412.42,182.47 412.93,176.98 413.50,174.00 C414.07,171.02 414.50,168.32 415.20,165.40 C415.90,162.48 416.90,158.40 417.70,156.50 C418.50,154.60 419.15,154.52 420.00,154.00 C420.85,153.48 421.97,153.32 422.80,153.40 C423.63,153.48 424.25,153.98 425.00,154.50 C425.75,155.02 426.40,154.68 427.30,156.50 C428.20,158.32 429.45,162.00 430.40,165.40 C431.35,168.80 432.23,175.63 433.00,176.90 C433.77,178.17 434.27,174.07 435.00,173.00 C435.73,171.93 436.57,170.25 437.40,170.50 C438.23,170.75 439.03,172.80 440.00,174.50 C440.97,176.20 442.28,180.37 443.20,180.70 C444.12,181.03 444.65,177.55 445.50,176.50 C446.35,175.45 447.38,174.15 448.30,174.40 C449.22,174.65 450.17,176.85 451.00,178.00 C451.83,179.15 452.55,181.22 453.30,181.30 C454.05,181.38 454.75,179.23 455.50,178.50 C456.25,177.77 456.97,176.90 457.80,176.90 C458.63,176.90 459.55,177.87 460.50,178.50 C461.45,179.13 462.42,180.95 463.50,180.70 C464.58,180.45 465.93,178.05 467.00,177.00 C468.07,175.95 468.53,176.63 469.90,174.40 C471.27,172.17 473.77,166.67 475.20,163.60 C476.63,160.53 477.45,158.97 478.50,156.00 C479.55,153.03 480.58,150.90 481.50,145.80 C482.42,140.70 483.37,129.95 484.00,125.40 C484.63,120.85 484.87,117.40 485.30,118.50 C485.73,119.60 486.18,127.58 486.60,132.00 C487.02,136.42 487.37,141.85 487.80,145.00 C488.23,148.15 488.50,147.73 489.20,150.90 C489.90,154.07 490.95,160.18 492.00,164.00 C493.05,167.82 494.17,170.97 495.50,173.80 C496.83,176.63 498.30,178.67 500.00,181.00 C501.70,183.33 504.13,185.63 505.70,187.80 C507.27,189.97 508.78,192.97 509.40,194.00" fill="none" stroke="#2B3A8A" stroke-width="1.45" stroke-linejoin="round"/>
<path d="M325.60,248.17 L326.05,252.86 L326.50,247.30 L326.95,253.04 L327.40,246.99 L327.85,253.33 L328.30,246.14 L328.75,251.06 L329.20,246.14 L329.65,251.26 L330.10,246.61 L330.55,251.23 L331.00,246.72 L331.45,251.09 L331.90,247.40 L332.35,252.35 L332.80,246.67 L333.25,250.99 L333.70,246.14 L334.15,251.12 L334.60,246.46 L335.05,253.61 L335.50,247.11 L335.95,251.09 L336.40,247.61 L336.85,252.84 L337.30,247.48 L337.75,251.79 L338.20,247.19 L338.65,251.13 L339.10,246.19 L339.55,249.71 L340.00,245.03 L340.45,251.04 L340.90,245.15 L341.35,249.04 L341.80,244.72 L342.25,249.39 L342.70,244.98 L343.15,249.92 L343.60,245.31 L344.05,249.56 L344.50,246.69 L344.95,250.24 L345.40,246.96 L345.85,249.62 L346.30,244.93 L346.75,249.18 L347.20,244.78 L347.65,248.87 L348.10,245.67 L348.55,249.88 L349.00,245.91 L349.45,251.70 L349.90,245.89 L350.35,248.37 L350.80,245.65 L351.25,249.71 L351.70,246.54 L352.15,250.23 L352.60,246.64 L353.05,249.97 L353.50,245.52 L353.95,247.88 L354.40,244.22 L354.85,247.63 L355.30,243.98 L355.75,247.16 L356.20,244.15 L356.65,247.77 L357.10,244.02 L357.55,246.99 L358.00,244.15 L358.45,247.04 L358.90,243.48 L359.35,247.48 L359.80,242.89 L360.25,245.89 L360.70,242.96 L361.15,245.95 L361.60,243.72 L362.05,246.79 L362.50,242.53 L362.95,246.53 L363.40,242.99 L363.85,245.20 L364.30,242.14 L364.75,245.12 L365.20,242.05 L365.65,244.30 L366.10,241.62 L366.55,244.32 L367.00,241.73 L367.45,244.12 L367.90,241.96 L368.35,244.47 L368.80,242.67 L369.25,245.47 L369.70,243.16 L370.15,245.11 L370.60,242.42 L371.05,244.75 L371.50,242.02 L371.95,243.65 L372.40,240.97 L372.85,243.36 L373.30,239.87 L373.75,241.58 L374.20,239.84 L374.65,241.30 L375.10,239.05 L375.55,240.43 L376.00,237.96 L376.45,239.36 L376.90,236.95 L377.35,238.21 L377.80,236.37 L378.25,237.62 L378.70,236.17 L379.15,237.07 L379.60,235.39 L380.05,236.43 L380.50,235.30 L380.95,236.36 L381.40,235.02 L381.85,235.71 L382.30,235.20 L382.75,236.19 L382.75,236.19 C383.21,236.33 384.37,237.48 385.50,237.00 C386.63,236.52 388.25,234.30 389.50,233.30 C390.75,232.30 391.72,231.97 393.00,231.00 C394.28,230.03 395.87,227.60 397.20,227.50 C398.53,227.40 399.87,230.82 401.00,230.40 C402.13,229.98 403.03,226.45 404.00,225.00 C404.97,223.55 405.85,222.08 406.80,221.70 C407.75,221.32 408.73,223.02 409.70,222.70 C410.67,222.38 411.47,222.05 412.60,219.80 C413.73,217.55 415.27,212.00 416.50,209.20 C417.73,206.40 418.72,204.53 420.00,203.00 C421.28,201.47 423.03,200.25 424.20,200.00 C425.37,199.75 426.03,200.60 427.00,201.50 C427.97,202.40 429.00,203.65 430.00,205.40 C431.00,207.15 432.05,209.92 433.00,212.00 C433.95,214.08 434.62,216.43 435.70,217.90 C436.78,219.37 438.22,219.37 439.50,220.80 C440.78,222.23 442.40,225.97 443.40,226.50 C444.40,227.03 444.87,224.63 445.50,224.00 C446.13,223.37 446.28,222.78 447.20,222.70 C448.12,222.62 449.72,223.18 451.00,223.50 C452.28,223.82 453.60,224.73 454.90,224.60 C456.20,224.47 457.52,222.53 458.80,222.70 C460.08,222.87 461.00,225.92 462.60,225.60 C464.20,225.28 466.47,222.25 468.40,220.80 C470.33,219.35 472.60,218.83 474.20,216.90 C475.80,214.97 476.80,212.35 478.00,209.20 C479.20,206.05 480.48,202.03 481.40,198.00 C482.32,193.97 482.82,190.07 483.50,185.00 C484.18,179.93 484.92,168.43 485.50,167.60 C486.08,166.77 486.42,175.77 487.00,180.00 C487.58,184.23 488.25,188.83 489.00,193.00 C489.75,197.17 490.67,201.38 491.50,205.00 C492.33,208.62 492.28,211.20 494.00,214.70 C495.72,218.20 499.88,223.28 501.80,226.00 C503.72,228.72 504.23,229.07 505.50,231.00 C506.77,232.93 508.75,236.50 509.40,237.60" fill="none" stroke="#1E9FD6" stroke-width="1.45" stroke-linejoin="round"/>
<path d="M325.60,291.04 L326.05,297.95 L326.50,290.14 L326.95,296.04 L327.40,291.52 L327.85,295.64 L328.30,292.00 L328.75,296.64 L329.20,293.09 L329.65,298.87 L330.10,291.79 L330.55,295.79 L331.00,290.82 L331.45,296.35 L331.90,289.85 L332.35,295.57 L332.80,289.26 L333.25,294.20 L333.70,290.66 L334.15,296.95 L334.60,289.53 L335.05,294.86 L335.50,291.44 L335.95,296.71 L336.40,291.18 L336.85,295.19 L337.30,292.19 L337.75,295.99 L338.20,291.47 L338.65,296.82 L339.10,292.04 L339.55,294.27 L340.00,290.85 L340.45,296.39 L340.90,290.50 L341.35,294.15 L341.80,289.94 L342.25,293.16 L342.70,289.04 L343.15,293.18 L343.60,290.03 L344.05,295.02 L344.50,289.77 L344.95,293.33 L345.40,289.59 L345.85,293.43 L346.30,289.16 L346.75,293.26 L347.20,290.16 L347.65,295.27 L348.10,290.04 L348.55,293.65 L349.00,290.15 L349.45,293.81 L349.90,288.91 L350.35,293.06 L350.80,289.53 L351.25,293.72 L351.70,290.76 L352.15,293.41 L352.60,289.35 L353.05,294.19 L353.50,289.39 L353.95,293.51 L354.40,290.63 L354.85,293.00 L355.30,290.19 L355.75,293.35 L356.20,289.54 L356.65,292.89 L357.10,290.06 L357.55,293.34 L358.00,289.65 L358.45,292.85 L358.90,290.77 L359.35,292.46 L359.80,289.54 L360.25,292.57 L360.70,290.19 L361.15,293.11 L361.60,289.25 L362.05,293.05 L362.50,288.82 L362.95,292.35 L363.40,288.61 L363.85,290.99 L364.30,288.11 L364.75,290.90 L365.20,287.67 L365.65,290.14 L366.10,287.16 L366.55,288.57 L367.00,286.69 L367.45,289.43 L367.90,286.48 L368.35,288.95 L368.80,286.41 L369.25,288.73 L369.70,286.25 L370.15,287.84 L370.60,286.07 L371.05,288.13 L371.50,285.84 L371.95,287.49 L372.40,285.80 L372.85,287.06 L373.30,285.49 L373.75,286.47 L374.20,284.92 L374.65,286.03 L375.10,284.86 L375.55,285.90 L376.00,284.52 L376.45,285.26 L376.90,284.21 L376.90,284.21 C377.08,284.18 377.18,283.70 378.00,284.00 C378.82,284.30 380.52,286.47 381.80,286.00 C383.08,285.53 384.42,281.53 385.70,281.20 C386.98,280.87 388.22,284.17 389.50,284.00 C390.78,283.83 391.95,281.48 393.40,280.20 C394.85,278.92 396.77,276.47 398.20,276.30 C399.63,276.13 400.57,280.00 402.00,279.20 C403.43,278.40 405.52,272.45 406.80,271.50 C408.08,270.55 408.73,274.78 409.70,273.50 C410.67,272.22 411.63,265.57 412.60,263.80 C413.57,262.03 414.38,265.13 415.50,262.90 C416.62,260.67 418.30,253.55 419.30,250.40 C420.30,247.25 420.68,245.45 421.50,244.00 C422.32,242.55 423.37,241.87 424.20,241.70 C425.03,241.53 425.70,242.20 426.50,243.00 C427.30,243.80 428.25,244.67 429.00,246.50 C429.75,248.33 430.37,251.27 431.00,254.00 C431.63,256.73 432.25,261.82 432.80,262.90 C433.35,263.98 433.82,260.98 434.30,260.50 C434.78,260.02 435.17,259.42 435.70,260.00 C436.23,260.58 436.87,262.40 437.50,264.00 C438.13,265.60 438.83,269.27 439.50,269.60 C440.17,269.93 440.85,266.80 441.50,266.00 C442.15,265.20 442.77,264.63 443.40,264.80 C444.03,264.97 444.67,266.20 445.30,267.00 C445.93,267.80 446.50,269.77 447.20,269.60 C447.90,269.43 448.70,266.80 449.50,266.00 C450.30,265.20 451.17,264.72 452.00,264.80 C452.83,264.88 453.70,266.02 454.50,266.50 C455.30,266.98 455.97,267.70 456.80,267.70 C457.63,267.70 458.72,266.45 459.50,266.50 C460.28,266.55 460.82,267.32 461.50,268.00 C462.18,268.68 462.85,270.52 463.60,270.60 C464.35,270.68 465.20,269.30 466.00,268.50 C466.80,267.70 467.37,266.58 468.40,265.80 C469.43,265.02 471.02,264.93 472.20,263.80 C473.38,262.67 474.38,260.80 475.50,259.00 C476.62,257.20 478.02,255.00 478.90,253.00 C479.78,251.00 480.17,249.50 480.80,247.00 C481.43,244.50 481.97,242.83 482.70,238.00 C483.43,233.17 484.35,216.77 485.20,218.00 C486.05,219.23 487.00,238.73 487.80,245.40 C488.60,252.07 489.15,254.18 490.00,258.00 C490.85,261.82 491.73,265.47 492.90,268.30 C494.07,271.13 495.52,273.08 497.00,275.00 C498.48,276.92 500.47,278.47 501.80,279.80 C503.13,281.13 503.95,281.73 505.00,283.00 C506.05,284.27 507.58,286.67 508.10,287.40" fill="none" stroke="#16874A" stroke-width="1.45" stroke-linejoin="round"/>
<path d="M325.60,334.99 L326.05,339.68 L326.50,336.28 L326.95,338.96 L327.40,334.39 L327.85,338.90 L328.30,333.60 L328.75,338.39 L329.20,332.87 L329.65,339.78 L330.10,333.27 L330.55,338.39 L331.00,332.76 L331.45,338.23 L331.90,332.76 L332.35,338.03 L332.80,333.70 L333.25,338.50 L333.70,335.79 L334.15,338.64 L334.60,335.19 L335.05,340.84 L335.50,334.28 L335.95,339.71 L336.40,334.58 L336.85,338.55 L337.30,333.33 L337.75,339.39 L338.20,333.66 L338.65,338.84 L339.10,333.60 L339.55,338.25 L340.00,334.05 L340.45,339.70 L340.90,334.07 L341.35,337.25 L341.80,333.94 L342.25,337.08 L342.70,334.06 L343.15,339.42 L343.60,333.24 L344.05,339.10 L344.50,334.57 L344.95,338.38 L345.40,333.70 L345.85,336.79 L346.30,333.02 L346.75,337.76 L347.20,334.12 L347.65,337.70 L348.10,333.26 L348.55,337.96 L349.00,334.08 L349.45,337.56 L349.90,334.11 L350.35,339.08 L350.80,335.03 L351.25,338.80 L351.70,334.62 L352.15,337.54 L352.60,334.26 L353.05,337.77 L353.50,334.44 L353.95,337.85 L354.40,334.22 L354.85,337.81 L355.30,334.39 L355.75,338.79 L356.20,333.32 L356.65,336.88 L357.10,333.47 L357.55,336.30 L358.00,332.75 L358.45,336.41 L358.90,333.27 L359.35,337.29 L359.80,332.45 L360.25,336.07 L360.70,331.59 L361.15,334.48 L361.60,331.76 L362.05,334.03 L362.50,331.11 L362.95,333.82 L363.40,330.85 L363.85,334.45 L364.30,331.09 L364.75,333.67 L365.20,330.70 L365.65,334.13 L366.10,331.19 L366.55,334.43 L367.00,330.73 L367.45,334.16 L367.90,331.18 L368.35,333.15 L368.80,331.32 L369.25,333.51 L369.70,331.26 L370.15,332.91 L370.60,330.26 L371.05,332.15 L371.50,330.05 L371.95,332.21 L372.40,330.16 L372.85,332.71 L373.30,329.64 L373.75,332.14 L374.20,329.38 L374.65,331.07 L375.10,328.86 L375.55,330.60 L376.00,328.90 L376.45,330.33 L376.90,328.54 L377.35,330.14 L377.80,328.10 L378.25,329.84 L378.70,328.54 L379.15,330.27 L379.60,329.04 L380.05,330.34 L380.50,329.48 L380.95,330.43 L380.95,330.43 C381.12,330.44 381.04,331.21 382.00,330.50 C382.96,329.79 385.45,326.62 386.70,326.20 C387.95,325.78 388.38,328.82 389.50,328.00 C390.62,327.18 392.12,322.73 393.40,321.30 C394.68,319.87 396.08,319.07 397.20,319.40 C398.32,319.73 398.82,324.10 400.10,323.30 C401.38,322.50 403.62,315.73 404.90,314.60 C406.18,313.47 406.52,317.78 407.80,316.50 C409.08,315.22 411.32,308.82 412.60,306.90 C413.88,304.98 414.70,304.83 415.50,305.00 C416.30,305.17 416.43,309.82 417.40,307.90 C418.37,305.98 420.28,296.65 421.30,293.50 C422.32,290.35 422.72,290.03 423.50,289.00 C424.28,287.97 425.25,287.47 426.00,287.30 C426.75,287.13 427.35,287.45 428.00,288.00 C428.65,288.55 429.15,288.77 429.90,290.60 C430.65,292.43 431.70,295.97 432.50,299.00 C433.30,302.03 433.85,307.48 434.70,308.80 C435.55,310.12 436.72,306.20 437.60,306.90 C438.48,307.60 439.20,310.75 440.00,313.00 C440.80,315.25 441.65,320.07 442.40,320.40 C443.15,320.73 443.85,316.45 444.50,315.00 C445.15,313.55 445.67,311.70 446.30,311.70 C446.93,311.70 447.67,313.72 448.30,315.00 C448.93,316.28 449.40,319.57 450.10,319.40 C450.80,319.23 451.70,315.43 452.50,314.00 C453.30,312.57 454.18,310.97 454.90,310.80 C455.62,310.63 456.15,312.20 456.80,313.00 C457.45,313.80 458.15,315.60 458.80,315.60 C459.45,315.60 460.07,313.65 460.70,313.00 C461.33,312.35 461.97,311.62 462.60,311.70 C463.23,311.78 463.85,312.85 464.50,313.50 C465.15,314.15 465.67,316.02 466.50,315.60 C467.33,315.18 468.55,312.45 469.50,311.00 C470.45,309.55 471.28,308.07 472.20,306.90 C473.12,305.73 474.03,304.95 475.00,304.00 C475.97,303.05 476.95,303.43 478.00,301.20 C479.05,298.97 480.38,294.97 481.30,290.60 C482.22,286.23 482.92,280.60 483.50,275.00 C484.08,269.40 484.38,257.00 484.80,257.00 C485.22,257.00 485.63,269.40 486.00,275.00 C486.37,280.60 486.07,284.77 487.00,290.60 C487.93,296.43 490.07,305.42 491.60,310.00 C493.13,314.58 494.67,316.18 496.20,318.10 C497.73,320.02 499.27,319.78 500.80,321.50 C502.33,323.22 504.07,327.65 505.40,328.40 C506.73,329.15 508.23,326.40 508.80,326.00" fill="none" stroke="#8CC04A" stroke-width="1.45" stroke-linejoin="round"/>
<path d="M484.80,27.30 L485.59,29.31 L487.75,29.44 L486.08,30.82 L486.62,32.91 L484.80,31.75 L482.98,32.91 L483.52,30.82 L481.85,29.44 L484.01,29.31 Z" fill="#111" stroke="#111" stroke-width="0.5" stroke-linejoin="round"/>
<text transform="translate(7.31 12.22) scale(1.0954 1)" font-size="15.851" fill="#111" stroke="#111" stroke-width="0.12" stroke-linejoin="round">(a)</text>
<text transform="translate(30.66 38.52) scale(0.9774 1)" font-size="16.809" fill="#1e1610" stroke="#1e1610" stroke-width="0.38" stroke-linejoin="round">(FeO<tspan font-size="58%" dy="0.28em">2</tspan><tspan dy="-0.1624em">​</tspan>)<tspan font-size="58%" dy="-0.52em">-1</tspan></text>
<text transform="translate(32.56 68.21) scale(1.0043 1)" font-size="16.383" fill="#1e1610" stroke="#1e1610" stroke-width="0.38" stroke-linejoin="round">(LaO)<tspan font-size="58%" dy="-0.52em">+1</tspan></text>
<text transform="translate(34.20 101.09) scale(1.1244 1)" font-size="15.532" fill="#1e1610" stroke="#1e1610" stroke-width="0.38" stroke-linejoin="round">(TiO<tspan font-size="58%" dy="0.28em">2</tspan><tspan dy="-0.1624em">​</tspan>)<tspan font-size="58%" dy="-0.52em">0</tspan></text>
<text transform="translate(36.23 129.97) scale(1.0856 1)" font-size="15.638" fill="#1e1610" stroke="#1e1610" stroke-width="0.38" stroke-linejoin="round">(SrO)<tspan font-size="58%" dy="-0.52em">0</tspan></text>
<text transform="translate(203.36 38.51) scale(1.0102 1)" font-size="16.383" fill="#1e1610" stroke="#1e1610" stroke-width="0.38" stroke-linejoin="round">(LaO)<tspan font-size="58%" dy="-0.52em">+1</tspan></text>
<text transform="translate(202.37 68.29) scale(0.9891 1)" font-size="16.489" fill="#1e1610" stroke="#1e1610" stroke-width="0.38" stroke-linejoin="round">(FeO<tspan font-size="58%" dy="0.28em">2</tspan><tspan dy="-0.1624em">​</tspan>)<tspan font-size="58%" dy="-0.52em">-1</tspan></text>
<text transform="translate(207.02 101.09) scale(1.1075 1)" font-size="15.532" fill="#1e1610" stroke="#1e1610" stroke-width="0.38" stroke-linejoin="round">(SrO)<tspan font-size="58%" dy="-0.52em">0</tspan></text>
<text transform="translate(205.72 129.97) scale(1.0962 1)" font-size="15.638" fill="#1e1610" stroke="#1e1610" stroke-width="0.38" stroke-linejoin="round">(TiO<tspan font-size="58%" dy="0.28em">2</tspan><tspan dy="-0.1624em">​</tspan>)<tspan font-size="58%" dy="-0.52em">0</tspan></text>
<text transform="translate(128.07 62.39) scale(1.0618 1)" font-size="16.197" fill="#111" stroke="#111" stroke-width="0.38" stroke-linejoin="round">LFO</text>
<text transform="translate(114.09 107.69) scale(1.0429 1)" font-size="16.351" fill="#111" stroke="#111" stroke-width="0.38" stroke-linejoin="round">Nb:STO</text>
<text transform="translate(0.31 157.00) scale(0.9800 1)" font-size="17.191" fill="#111" stroke="#111" stroke-width="0.38" stroke-linejoin="round">TiO<tspan font-size="58%" dy="0.28em">2</tspan><tspan dy="-0.1624em">​</tspan> termination</text>
<text transform="translate(171.71 156.49) scale(1.0296 1)" font-size="16.351" fill="#111" stroke="#111" stroke-width="0.38" stroke-linejoin="round">SrO termination</text>
<text transform="translate(7.42 187.49) scale(1.0365 1)" font-size="16.489" fill="#111" stroke="#111" stroke-width="0.12" stroke-linejoin="round">(b)</text>
<text transform="translate(28.72 207.39) scale(1.0627 1)" font-size="15.634" fill="#111" stroke="#111" stroke-width="0.45" stroke-linejoin="round">1.6</text>
<text transform="translate(28.73 245.55) scale(1.0410 1)" font-size="15.857" fill="#111" stroke="#111" stroke-width="0.45" stroke-linejoin="round">1.2</text>
<text transform="translate(28.80 283.79) scale(1.0086 1)" font-size="16.197" fill="#111" stroke="#111" stroke-width="0.45" stroke-linejoin="round">0.8</text>
<text transform="translate(28.49 321.79) scale(1.0150 1)" font-size="16.197" fill="#111" stroke="#111" stroke-width="0.45" stroke-linejoin="round">0.4</text>
<text transform="translate(28.48 360.08) scale(1.0105 1)" font-size="16.620" fill="#111" stroke="#111" stroke-width="0.45" stroke-linejoin="round">0.0</text>
<text transform="translate(55.68 372.58) scale(0.9902 1)" font-size="17.042" fill="#111" stroke="#111" stroke-width="0.45" stroke-linejoin="round">0</text>
<text transform="translate(68.40 372.58) scale(0.9571 1)" font-size="17.042" fill="#111" stroke="#111" stroke-width="0.45" stroke-linejoin="round">30</text>
<text transform="translate(92.67 372.58) scale(0.9902 1)" font-size="17.042" fill="#111" stroke="#111" stroke-width="0.45" stroke-linejoin="round">0</text>
<text transform="translate(123.70 372.58) scale(0.9952 1)" font-size="17.042" fill="#111" stroke="#111" stroke-width="0.45" stroke-linejoin="round">60</text>
<text transform="translate(155.62 372.58) scale(0.9767 1)" font-size="17.042" fill="#111" stroke="#111" stroke-width="0.45" stroke-linejoin="round">120</text>
<text transform="translate(189.92 372.58) scale(0.9767 1)" font-size="17.042" fill="#111" stroke="#111" stroke-width="0.45" stroke-linejoin="round">180</text>
<text transform="translate(225.51 372.58) scale(0.9804 1)" font-size="17.042" fill="#111" stroke="#111" stroke-width="0.45" stroke-linejoin="round">240</text>
<text transform="translate(260.67 372.58) scale(0.9927 1)" font-size="17.042" fill="#111" stroke="#111" stroke-width="0.45" stroke-linejoin="round">300</text>
<text transform="translate(137.31 388.44) scale(1.0221 1)" font-size="16.702" fill="#111" stroke="#111" stroke-width="0.38" stroke-linejoin="round">Time (s)</text>
<text transform="translate(23.29 349.97) rotate(-90) scale(1 0.9753)" font-size="16.906" fill="#111" stroke="#111" stroke-width="0.38" stroke-linejoin="round">Intensity (arb. units)</text>
<text transform="translate(58.60 220.20) scale(0.9682 1)" font-size="15.493" fill="#111" stroke="#111" stroke-width="0.38" stroke-linejoin="round">SrO</text>
<text transform="translate(166.57 313.51) scale(1.0390 1)" font-size="14.225" fill="#111" stroke="#111" stroke-width="0.38" stroke-linejoin="round">LFO</text>
<text transform="translate(166.67 280.04) scale(1.2125 1)" font-size="9.111" fill="#000" stroke="#000" stroke-width="0.38" stroke-linejoin="round">1 µm</text>
<text transform="translate(251.14 210.05) scale(0.9883 1)" font-size="10.282" fill="#000" font-weight="bold" stroke="#000" stroke-width="0.38" stroke-linejoin="round">1.81</text>
<text transform="translate(253.09 288.26) scale(1.0401 1)" font-size="8.592" fill="#000" font-weight="bold" stroke="#000" stroke-width="0.38" stroke-linejoin="round">0</text>
<text transform="translate(258.25 251.11) rotate(-90) scale(1 0.8684)" font-size="10.876" fill="#000" font-weight="bold" stroke="#000" stroke-width="0.38" stroke-linejoin="round">nm</text>
<text transform="translate(314.60 12.22) scale(1.1040 1)" font-size="15.851" fill="#111" stroke="#111" stroke-width="0.12" stroke-linejoin="round">(c)</text>
<text transform="translate(316.73 369.99) scale(0.9937 1)" font-size="16.197" fill="#111" stroke="#111" stroke-width="0.45" stroke-linejoin="round">43</text>
<text transform="translate(362.52 370.32) scale(0.9762 1)" font-size="16.912" fill="#111" stroke="#111" stroke-width="0.45" stroke-linejoin="round">44</text>
<text transform="translate(408.71 369.99) scale(1.0203 1)" font-size="16.429" fill="#111" stroke="#111" stroke-width="0.45" stroke-linejoin="round">45</text>
<text transform="translate(455.11 369.99) scale(1.0349 1)" font-size="16.197" fill="#111" stroke="#111" stroke-width="0.45" stroke-linejoin="round">46</text>
<text transform="translate(501.70 370.32) scale(1.0291 1)" font-size="16.912" fill="#111" stroke="#111" stroke-width="0.45" stroke-linejoin="round">47</text>
<text transform="translate(390.51 388.93) scale(1.0359 1)" font-size="16.277" fill="#111" stroke="#111" stroke-width="0.38" stroke-linejoin="round">2<tspan font-style="italic">θ</tspan> (deg)</text>
<text transform="translate(316.39 274.56) rotate(-90) scale(1 0.9800)" font-size="16.825" fill="#111" stroke="#111" stroke-width="0.38" stroke-linejoin="round">Intensity (arb. units)</text>
<text transform="translate(390.29 70.58) scale(1.0108 1)" font-size="16.761" fill="#111" stroke="#111" stroke-width="0.38" stroke-linejoin="round">LFO 002</text>
<text transform="translate(329.65 91.00) scale(0.9678 1)" font-size="11.573" fill="#E1232B" stroke="#E1232B" stroke-width="0.38" stroke-linejoin="round">18 nm TiO<tspan font-size="58%" dy="0.28em">2</tspan><tspan dy="-0.1624em">​</tspan></text>
<text transform="translate(329.43 101.54) scale(0.9990 1)" font-size="11.081" fill="#E1232B" stroke="#E1232B" stroke-width="0.38" stroke-linejoin="round">termination</text>
<text transform="translate(329.89 134.63) scale(0.9172 1)" font-size="11.690" fill="#D21F80" stroke="#D21F80" stroke-width="0.38" stroke-linejoin="round">18 nm SrO</text>
<text transform="translate(329.23 145.54) scale(0.9619 1)" font-size="11.486" fill="#D21F80" stroke="#D21F80" stroke-width="0.38" stroke-linejoin="round">termination</text>
<text transform="translate(329.53 180.03) scale(0.9875 1)" font-size="11.348" fill="#2B3A8A" stroke="#2B3A8A" stroke-width="0.38" stroke-linejoin="round">44 nm TiO<tspan font-size="58%" dy="0.28em">2</tspan><tspan dy="-0.1624em">​</tspan></text>
<text transform="translate(329.53 190.54) scale(0.9637 1)" font-size="11.486" fill="#2B3A8A" stroke="#2B3A8A" stroke-width="0.38" stroke-linejoin="round">termination</text>
<text transform="translate(329.54 224.64) scale(0.9489 1)" font-size="11.268" fill="#1E9FD6" stroke="#1E9FD6" stroke-width="0.38" stroke-linejoin="round">44 nm SrO</text>
<text transform="translate(329.53 235.54) scale(0.9934 1)" font-size="11.081" fill="#1E9FD6" stroke="#1E9FD6" stroke-width="0.38" stroke-linejoin="round">termination</text>
<text transform="translate(329.30 269.73) scale(0.9916 1)" font-size="11.348" fill="#16874A" stroke="#16874A" stroke-width="0.38" stroke-linejoin="round">55 nm TiO<tspan font-size="58%" dy="0.28em">2</tspan><tspan dy="-0.1624em">​</tspan></text>
<text transform="translate(329.53 279.94) scale(1.0312 1)" font-size="10.676" fill="#16874A" stroke="#16874A" stroke-width="0.38" stroke-linejoin="round">termination</text>
<text transform="translate(329.30 314.64) scale(0.9903 1)" font-size="11.268" fill="#8CC04A" stroke="#8CC04A" stroke-width="0.38" stroke-linejoin="round">55 nm SrO</text>
<text transform="translate(329.53 325.25) scale(1.0719 1)" font-size="10.270" fill="#8CC04A" stroke="#8CC04A" stroke-width="0.38" stroke-linejoin="round">termination</text>
</svg></body></html>
